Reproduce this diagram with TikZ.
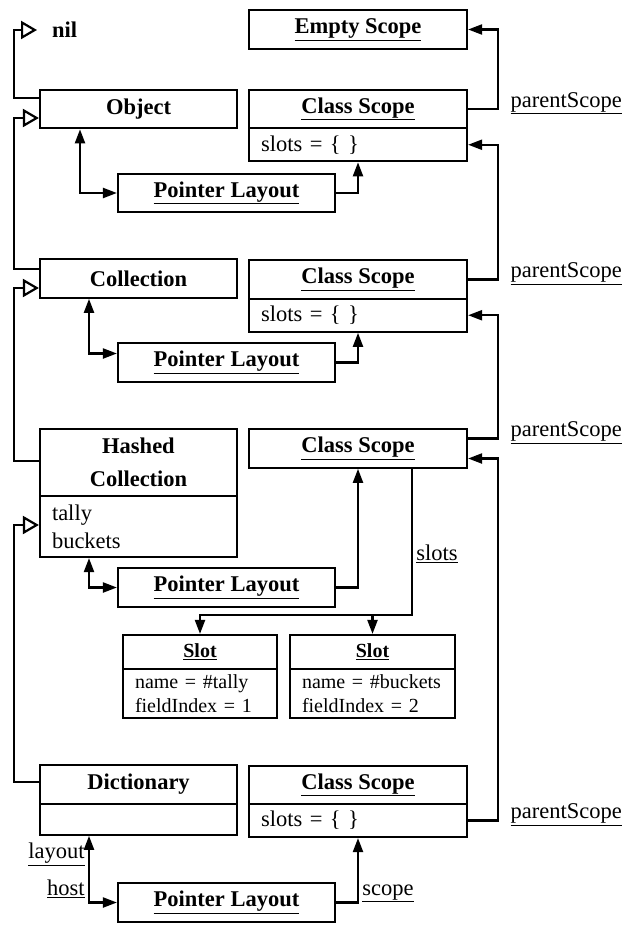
\documentclass[tikz,border=0pt]{standalone}
\usepackage{fontspec}
\setmainfont{Liberation Serif}
\usetikzlibrary{arrows.meta}
\usetikzlibrary{calc}

\begin{document}
\begin{tikzpicture}[x=1pt,y=-1pt,>={Triangle[length=14pt,width=10pt]},
every node/.style={font=\fontsize{22.5}{28}\selectfont},
box/.style={rectangle,draw,line width=2.2pt,inner sep=0pt,minimum height=38.5pt,
  font=\fontsize{22.5}{28}\selectfont\bfseries},
classbox/.style={box,minimum width=197pt},
scopebox/.style={box,minimum width=218pt},
layoutbox/.style={box,minimum width=217pt},
slotbox/.style={box,minimum height=34pt,font=\fontsize{20}{24}\selectfont\bfseries},
body/.style={rectangle,draw,line width=2.2pt,anchor=north,inner xsep=12pt,inner ysep=0pt,
  align=left,font=\fontsize{22.5}{28}\selectfont},
slotbody/.style={body,minimum height=49pt,font=\fontsize{20}{24}\selectfont},
inherit/.style={line width=2.2pt,-{Triangle[open,length=16pt,width=18pt]}}
]
\useasboundingbox (0,0) rectangle (632,928);
\pgfmathsetmacro{\bus}{30}
\node[anchor=west,inner xsep=15pt,font=\fontsize{22.5}{28}\selectfont\bfseries](nil) at (37,30){nil};
\node[classbox](object) at (138.5,109){Object};
\node[classbox](coll) at (138.5,278.5){Collection};
\node[classbox,minimum height=67pt,align=center,
  font=\fontsize{22.5}{33}\selectfont\bfseries](hc) at (138.5,462.5){Hashed\\Collection};
\node[body,text width=173pt,minimum height=61pt](hc-body) at ([yshift=2.2]hc.south){tally\\buckets};
\node[classbox](dict) at (138.5,784.5){Dictionary};
\node[body,text width=173pt,minimum height=31pt](dict-body) at ([yshift=2.2]dict.south){};

\node[scopebox](empty) at (358,29.5){\underline{Empty Scope}};
\node[scopebox](cs1) at (358,109){\underline{Class Scope}};
\node[body,text width=194pt,minimum height=33pt](cs1-body) at ([yshift=2.2]cs1.south){slots = \{ \}};
\node[scopebox](cs2) at (358,279.5){\underline{Class Scope}};
\node[body,text width=194pt,minimum height=33pt](cs2-body) at ([yshift=2.2]cs2.south){slots = \{ \}};
\node[scopebox](cs3) at (358,448.5){\underline{Class Scope}};
\node[scopebox,minimum height=38pt](cs4) at (358,785){\underline{Class Scope}};
\node[body,text width=194pt,minimum height=33pt](cs4-body) at ([yshift=2.2]cs4.south){slots = \{ \}};

\node[layoutbox](pl1) at (226.5,193){\underline{Pointer Layout}};
\node[layoutbox](pl2) at (226.5,362.5){\underline{Pointer Layout}};
\node[layoutbox](pl3) at (226.5,587.5){\underline{Pointer Layout}};
\node[layoutbox](pl4) at (226.5,902.5){\underline{Pointer Layout}};

\node[slotbox,minimum width=154pt](slot1) at (200,652){\underline{Slot}};
\node[slotbody,text width=130pt](slot1-body) at ([yshift=2.2]slot1.south){name = \#tally\\fieldIndex = 1};
\node[slotbox,minimum width=165pt](slot2) at (372.5,652){\underline{Slot}};
\node[slotbody,text width=141pt](slot2-body) at ([yshift=2.2]slot2.south){name = \#buckets\\fieldIndex = 2};

\draw[inherit] (object.west |- 0,98) -- ++(-25,0) |- (nil.west);
\draw[inherit] (coll.west |- 0,269) -- ++(-25,0) |- (object.west |- 0,118);
\draw[inherit] (hc.west |- 0,461) -- ++(-25,0) |- (coll.west |- 0,288);
\draw[inherit] (dict.west |- 0,782) -- ++(-25,0) |- (hc-body.west |- 0,525);

\begin{scope}[line width=2.2pt]
\draw[<->] (object.south -| 80,0) |- (pl1.west);
\draw[<->] (coll.south -| 89,0) |- ([yshift=9]pl2.west);
\draw[<->] (hc-body.south -| 89,0) |- (pl3.west);
\draw[<->] (dict-body.south -| 89,0) |- node[pos=.14,left]{\underline{layout}}
  node[pos=.4,left]{\underline{host}} (pl4.west);

\draw[->] (pl1.east) -| (cs1-body.south);
\draw[->] (pl2.east) -| (cs2-body.south);
\draw[->] (pl3.east) -| (cs3.south);
\draw[->] (pl4.east) -| node[pos=.57,right]{\underline{scope}} (cs4-body.south);

\draw[->] (cs1.east) -- ++(\bus,0) node[anchor=west,xshift=8pt,yshift=6pt]{\underline{parentScope}} |- (empty.east);
\draw[->] (cs2.east) -- ++(\bus,0) node[anchor=west,xshift=8pt,yshift=6pt]{\underline{parentScope}} |- (cs1-body.east);
\draw[->] ([yshift=10]cs3.east) -- ++(\bus,0) node[anchor=west,xshift=8pt,yshift=6pt]{\underline{parentScope}} |- (cs2-body.east);
\draw[->] (cs4-body.east) -- ++(\bus,0) node[anchor=west,xshift=8pt,yshift=6pt]{\underline{parentScope}} |- ([yshift=-10]cs3.east);

\draw[->] ([xshift=54]cs3.south) |- node[pos=.29,right]{\underline{slots}} ([yshift=19]slot1.north) -- (slot1.north);
\draw[->] ([xshift=54]cs3.south) |- ([yshift=19]slot2.north) -- (slot2.north);
\end{scope}
\end{tikzpicture}
\end{document}
